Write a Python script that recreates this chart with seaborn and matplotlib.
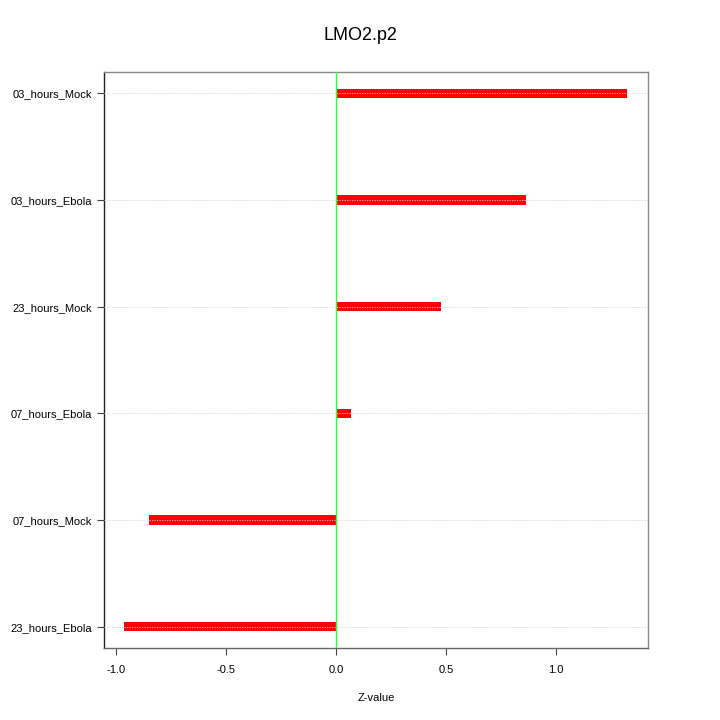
import matplotlib
matplotlib.use("Agg")
import matplotlib.pyplot as plt
import seaborn as sns
import pandas as pd

categories = ["03_hours_Mock", "03_hours_Ebola", "23_hours_Mock",
              "07_hours_Ebola", "07_hours_Mock", "23_hours_Ebola"]
zvalues = [1.323, 0.862, 0.477, 0.068, -0.850, -0.964]
xticks = [-1.0, -0.5, 0.0, 0.5, 1.0]

sns.set_style("white")
plt.rcParams['font.family'] = ['Liberation Sans', 'DejaVu Sans']
plt.rcParams['text.color'] = 'black'
plt.rcParams['xtick.color'] = 'black'
plt.rcParams['ytick.color'] = 'black'
plt.rcParams['axes.labelcolor'] = 'black'

df = pd.DataFrame({"cat": categories, "z": zvalues})

fig = plt.figure(figsize=(7.2, 7.2), dpi=100)
ax = fig.add_axes([0.1444, 0.1, 0.9 - 0.1444, 0.8])

sns.barplot(data=df, x="z", y="cat", orient="h", color="#ff0000",
            saturation=1, width=0.085, linewidth=0, ax=ax, zorder=2)

for i in range(len(categories)):
    ax.axhline(i, color="#d0d0d0", lw=0.6, ls=(0, (1.5, 1.5)), zorder=3)
ax.axvline(0, color="#33ff33", lw=1.0, zorder=4)

ax.set_xlim(-1.055, 1.418)
ax.set_ylim(len(categories) - 1 + 0.2, -0.2)
ax.set_xticks(xticks)
ax.set_xticklabels([f"{t:.1f}" for t in xticks], fontsize=8)
ax.tick_params(axis="y", labelsize=8, length=5, color="#444444", direction="out", left=True)
ax.tick_params(axis="x", length=5, color="#444444", direction="out", bottom=True, pad=7)
ax.set_ylabel("")
ax.set_xlabel("Z-value", fontsize=8, labelpad=13)
for s in ax.spines.values():
    s.set_color("#888888")
    s.set_linewidth(1.0)
ax.spines["left"].set_color("#222222")
ax.spines["bottom"].set_color("#666666")

fig.suptitle("LMO2.p2", fontsize=13, y=0.962)
fig.savefig("out.png", dpi=100)
